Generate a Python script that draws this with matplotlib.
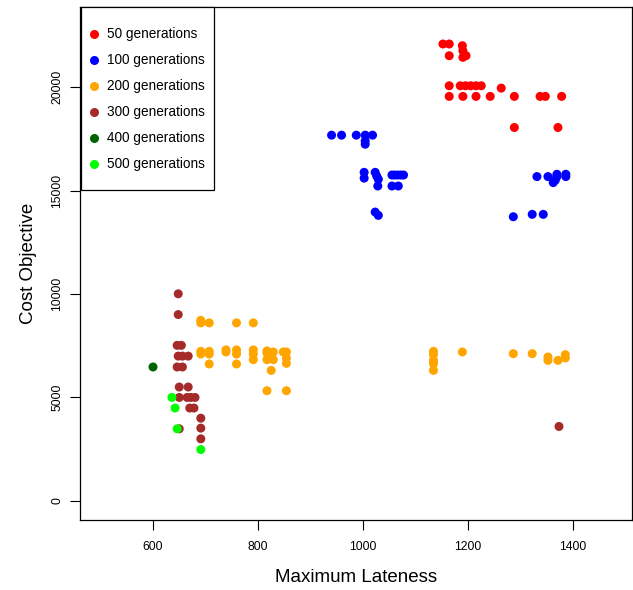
import matplotlib
matplotlib.use("Agg")
import matplotlib.pyplot as plt
from matplotlib.lines import Line2D
from matplotlib.patches import Rectangle

plt.rcParams['font.family'] = ['Liberation Sans', 'DejaVu Sans']

labels = ["50 generations", "100 generations", "200 generations",
          "300 generations", "400 generations", "500 generations"]
colors = ["#FF0000", "#0000FF", "#FFA500", "#A52A2A", "#006400", "#00FF00"]

x50 = [1152, 1164, 1164, 1189, 1190, 1190, 1196, 1164, 1185, 1195, 1205, 1215, 1225,
       1263, 1164, 1190, 1215, 1242, 1288, 1337, 1347, 1378, 1288, 1371]
y50 = [22082, 22082, 21516, 22000, 21758, 21438, 21516, 20064, 20064, 20064, 20064, 20064,
       20064, 19950, 19550, 19550, 19550, 19550, 19550, 19550, 19550, 19550, 18047, 18047]

x100 = [940, 959, 987, 1004, 1018, 1004, 1004, 1002, 1002, 1023, 1026, 1029, 1055, 1060,
        1066, 1072, 1077, 1028, 1055, 1067, 1023, 1029, 1331, 1352, 1369, 1386, 1369, 1386,
        1362, 1366, 1286, 1322, 1343]
y100 = [17676, 17676, 17676, 17676, 17676, 17400, 17240, 15880, 15600, 15880, 15700, 15545,
        15750, 15750, 15750, 15750, 15750, 15220, 15220, 15220, 13960, 13800, 15675, 15675,
        15675, 15675, 15787, 15787, 15385, 15500, 13734, 13850, 13850]

x200 = [691, 691, 707, 759, 791, 691, 691, 707, 707, 739, 739, 759, 759, 791, 791, 817,
        817, 829, 848, 854, 791, 817, 829, 854, 854, 707, 759, 825, 817, 854,
        1134, 1134, 1134, 1134, 1134, 1189, 1286, 1322, 1352, 1352, 1371, 1385, 1385]
y200 = [8605, 8730, 8605, 8605, 8605, 7230, 7100, 7230, 7100, 7300, 7200, 7300, 7100, 7300,
        7100, 7250, 7150, 7200, 7200, 7200, 6828, 6828, 6828, 6900, 6650, 6620, 6620, 6310,
        5327, 5327,
        7230, 7070, 6794, 6634, 6310, 7200, 7118, 7118, 6958, 6794, 6794, 7070, 6910]

x300 = [648, 648, 646, 654, 648, 656, 667, 646, 656, 650, 667, 650, 665, 672, 680, 670,
        678, 691, 691, 691, 650, 1373]
y300 = [10010, 9007, 7520, 7520, 7000, 7000, 7000, 6474, 6474, 5506, 5506, 5002, 5002,
        5002, 5002, 4490, 4490, 4000, 3520, 3002, 3487, 3600]

x400 = [600]
y400 = [6474]

x500 = [636, 642, 646, 691]
y500 = [5002, 4490, 3487, 2485]

xs = [x50, x100, x200, x300, x400, x500]
ys = [y50, y100, y200, y300, y400, y500]

W, H = 633, 590
fig = plt.figure(figsize=(W / 100, H / 100), dpi=100)
ax = fig.add_axes([80 / W, (H - 520) / H, (632 - 80) / W, (520 - 7) / H])

for x, y, c in zip(xs, ys, colors):
    ax.scatter(x, y, s=42, color=c, edgecolors='none', zorder=3)

ax.set_xlim(461, 1512)
ax.set_ylim(-920, 23870)
ax.set_xticks([600, 800, 1000, 1200, 1400])
ax.set_yticks([0, 5000, 10000, 15000, 20000])
ax.tick_params(direction='out', length=7, width=0.8, labelsize=8.7)
ax.tick_params(axis='x', pad=8)
ax.tick_params(axis='y', pad=5)
for lab in ax.get_yticklabels():
    lab.set_rotation(90)
    lab.set_va('center')
for sp in ax.spines.values():
    sp.set_linewidth(0.9)

ax.set_xlabel("Maximum Lateness", fontsize=13.5, labelpad=12)
ax.set_ylabel("Cost Objective", fontsize=13.5, labelpad=10)

# manual legend box (pixel layout converted to figure fraction)
def fx(px):
    return px / W

def fy(py):
    return (H - py) / H

fig.add_artist(Rectangle((fx(81), fy(190)), fx(214) - fx(81), fy(7) - fy(190),
                         transform=fig.transFigure, facecolor='white',
                         edgecolor='black', linewidth=0.9, zorder=5))
for i, (lab, c) in enumerate(zip(labels, colors)):
    yy = 34 + 26 * i
    fig.add_artist(Line2D([fx(94)], [fy(yy)], marker='o', linestyle='none',
                          markersize=6.5, markerfacecolor=c, markeredgecolor='none',
                          transform=fig.transFigure, zorder=6))
    fig.text(fx(107), fy(yy), lab, fontsize=9.8, va='center', ha='left', zorder=6)

fig.savefig("out.png", dpi=100)
